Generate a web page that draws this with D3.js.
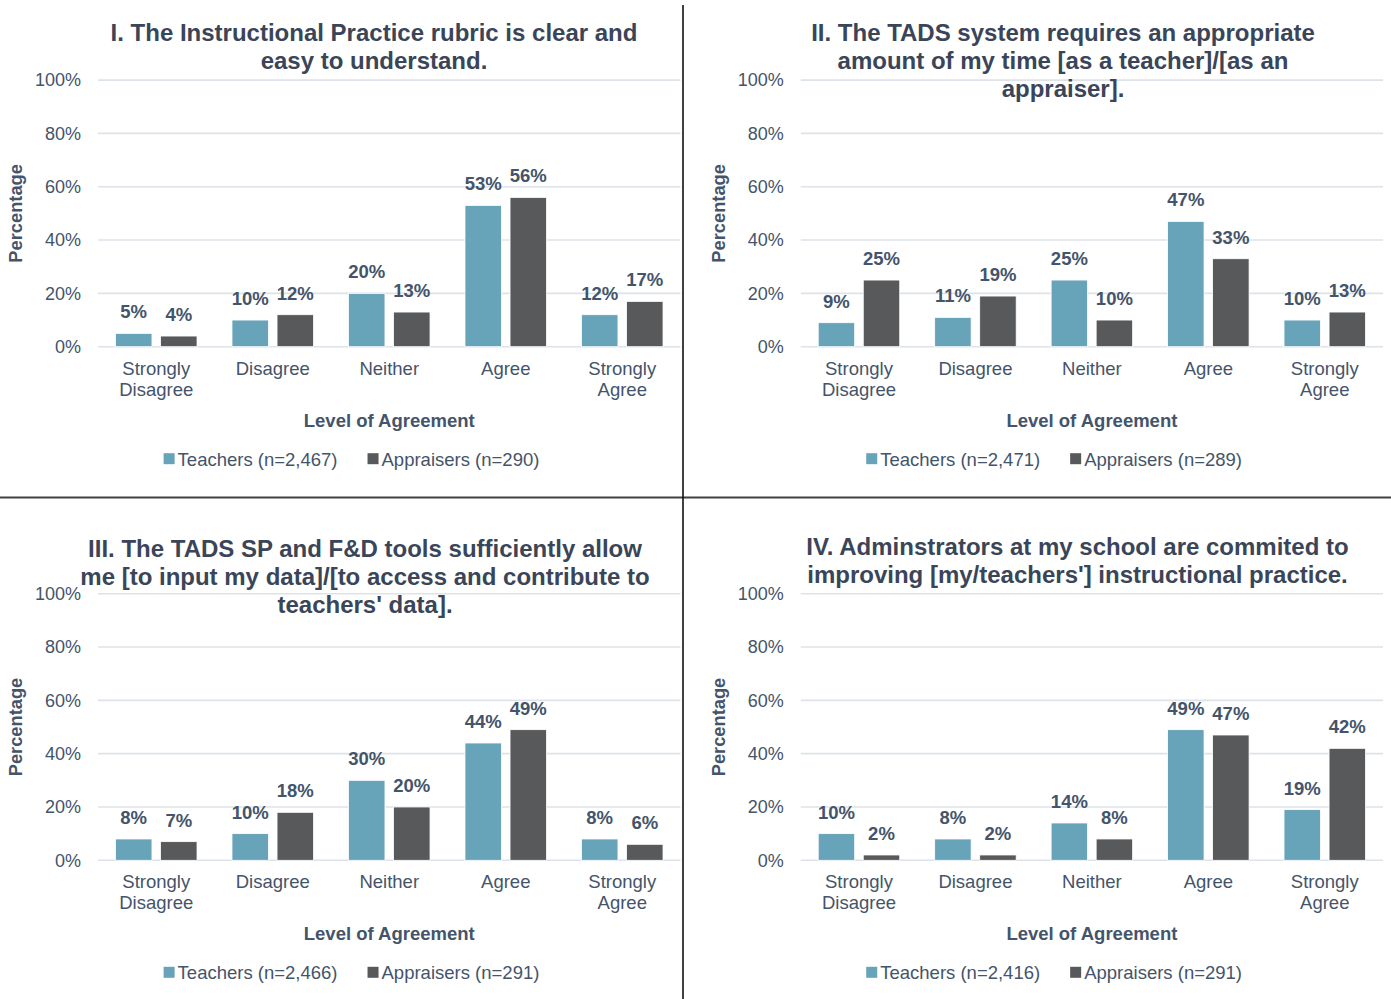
<!DOCTYPE html>
<html>
<head>
<meta charset="utf-8">
<script src="https://cdn.jsdelivr.net/npm/d3@7"></script>
<style>
  html, body { margin: 0; padding: 0; background: #fff; }
  svg { display: block; font-family: Arial, "Liberation Sans", sans-serif; }
</style>
</head>
<body>
<svg id="chart" width="1391" height="999"></svg>
<script>
// ---------- DATA ----------
const categories = ["Strongly Disagree", "Disagree", "Neither", "Agree", "Strongly Agree"];
const seriesNames = ["Teachers", "Appraisers"];
const yTicks = [0, 20, 40, 60, 80, 100];

const titles = [
  ["I. The Instructional Practice rubric is clear and", "easy to understand."],
  ["II. The TADS system requires an appropriate", "amount of my time [as a teacher]/[as an", "appraiser]."],
  ["III. The TADS SP and F&D tools sufficiently allow", "me [to input my data]/[to access and contribute to", "teachers' data]."],
  ["IV. Adminstrators at my school are commited to", "improving [my/teachers'] instructional practice."]
];

const teachers1 = [5, 10, 20, 53, 12];
const appraisers1 = [4, 12, 13, 56, 17];
const teachers2 = [9, 11, 25, 47, 10];
const appraisers2 = [25, 19, 10, 33, 13];
const teachers3 = [8, 10, 30, 44, 8];
const appraisers3 = [7, 18, 20, 49, 6];
const teachers4 = [10, 8, 14, 49, 19];
const appraisers4 = [2, 2, 8, 47, 42];

const teacherN = ["2,467", "2,471", "2,466", "2,416"];
const appraiserN = ["290", "289", "291", "291"];

const xTitle = "Level of Agreement";
const yTitle = "Percentage";

// ---------- LAYOUT ----------
const panels = [
  { t: teachers1, a: appraisers1, left: 98, right: 680.5, y0: 346.7, titleX: 374, titleY: 40.5 },
  { t: teachers2, a: appraisers2, left: 800.75, right: 1383, y0: 346.7, titleX: 1063, titleY: 40.5 },
  { t: teachers3, a: appraisers3, left: 98, right: 680.5, y0: 860.3, titleX: 365, titleY: 556.5 },
  { t: teachers4, a: appraisers4, left: 800.75, right: 1383, y0: 860.3, titleX: 1077.5, titleY: 554.5 }
];
const colors = { Teachers: "#67a3b9", Appraisers: "#58595b" };
const titleColor = "#3a4558";
const textColor = "#44546a";

const svg = d3.select("#chart");

panels.forEach((p, i) => {
  const g = svg.append("g");
  const y = d3.scaleLinear().domain([0, 100]).range([p.y0, p.y0 - 266.6]);
  const x0 = d3.scaleBand().domain(categories).range([p.left, p.right])
    .paddingInner(0.3).paddingOuter(0.15);
  const x1 = d3.scaleBand().domain(seriesNames).range([0, x0.bandwidth()]).paddingInner(0.19);

  // gridlines
  g.selectAll(".grid").data(yTicks).join("line")
    .attr("x1", p.left).attr("x2", p.right)
    .attr("y1", d => y(d)).attr("y2", d => y(d))
    .attr("stroke", "#dee3ea").attr("stroke-width", 1.6);

  // y tick labels
  g.selectAll(".ytick").data(yTicks).join("text")
    .attr("x", p.left - 17).attr("y", d => y(d)).attr("dy", "0.35em")
    .attr("text-anchor", "end").attr("font-size", 18).attr("fill", textColor)
    .text(d => d + "%");

  // y title
  g.append("text")
    .attr("transform", `translate(${p.left - 76},${y(50)}) rotate(-90)`)
    .attr("text-anchor", "middle").attr("font-size", 18.3).attr("font-weight", "bold")
    .attr("fill", textColor).text(yTitle);

  // bars
  const rows = categories.map((c, k) => ({ cat: c, vals: [{ s: "Teachers", v: p.t[k] }, { s: "Appraisers", v: p.a[k] }] }));
  const cg = g.selectAll(".cat").data(rows).join("g")
    .attr("transform", d => `translate(${x0(d.cat)},0)`);
  cg.selectAll("rect").data(d => d.vals).join("rect")
    .attr("x", d => x1(d.s)).attr("width", x1.bandwidth())
    .attr("y", d => y(d.v)).attr("height", d => y(0) - y(d.v))
    .attr("fill", d => colors[d.s]).attr("stroke", "#ffffff").attr("stroke-width", 0.8);
  cg.selectAll("text").data(d => d.vals).join("text")
    .attr("x", d => x1(d.s) + x1.bandwidth() / 2).attr("y", d => y(d.v) - 15)
    .attr("text-anchor", "middle").attr("font-size", 18.5).attr("font-weight", "bold")
    .attr("fill", textColor).text(d => d.v + "%");

  // category labels
  const lab = g.selectAll(".catlab").data(categories).join("text")
    .attr("text-anchor", "middle").attr("font-size", 18.5).attr("fill", textColor);
  lab.each(function(d) {
    const words = d.split(" ");
    const sel = d3.select(this);
    words.forEach((w, k) => {
      sel.append("tspan").attr("x", x0(d) + x0.bandwidth() / 2)
        .attr("y", p.y0 + 28 + k * 21).text(w);
    });
  });

  // x title
  g.append("text")
    .attr("x", (p.left + p.right) / 2).attr("y", p.y0 + 80)
    .attr("text-anchor", "middle").attr("font-size", 18.5).attr("font-weight", "bold")
    .attr("fill", textColor).text(xTitle);

  // chart title
  g.append("text").attr("text-anchor", "middle").attr("font-size", 24)
    .attr("font-weight", "bold").attr("fill", titleColor)
    .selectAll("tspan").data(titles[i]).join("tspan")
    .attr("x", p.titleX).attr("y", (d, k) => p.titleY + k * 28).text(d => d);

  // legend
  const legCenter = (p.left + p.right) / 2 - 37.75;
  const legY = p.y0 + 119;
  const items = [
    { s: "Teachers", label: `Teachers (n=${teacherN[i]})` },
    { s: "Appraisers", label: `Appraisers (n=${appraiserN[i]})` }
  ];
  const leg = g.append("g");
  const itemG = leg.selectAll("g").data(items).join("g");
  itemG.append("rect").attr("width", 11).attr("height", 11).attr("y", -12.5)
    .attr("fill", d => colors[d.s]);
  itemG.append("text").attr("x", 14).attr("font-size", 18.5).attr("fill", textColor)
    .text(d => d.label);
  const widths = [];
  itemG.each(function() { widths.push(this.getBBox().width); });
  const gap = 30;
  const total = widths[0] + gap + widths[1];
  itemG.attr("transform", (d, k) => {
    const tx = legCenter - total / 2 + (k === 0 ? 0 : widths[0] + gap);
    return `translate(${tx},${legY})`;
  });
});

// dividers
svg.append("line").attr("x1", 0).attr("x2", 1391).attr("y1", 497.5).attr("y2", 497.5)
  .attr("stroke", "#404040").attr("stroke-width", 2);
svg.append("line").attr("x1", 683).attr("x2", 683).attr("y1", 5).attr("y2", 999)
  .attr("stroke", "#111").attr("stroke-width", 1.6);
</script>
</body>
</html>
